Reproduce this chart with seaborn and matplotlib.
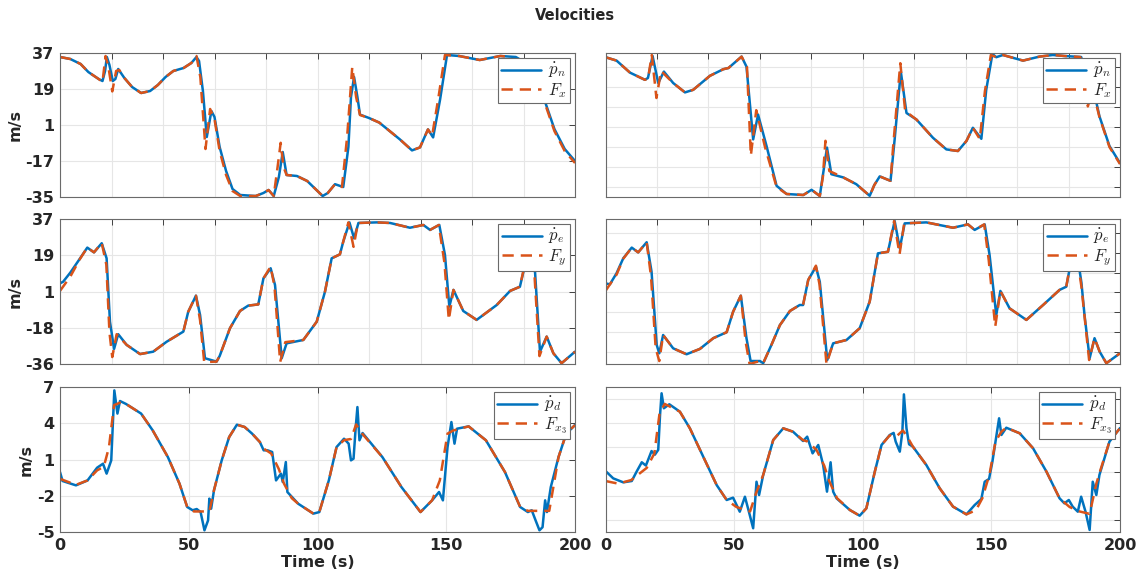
import numpy as np
import pandas as pd
import matplotlib
matplotlib.use("Agg")
import matplotlib.pyplot as plt
import seaborn as sns

# ---------------- data (time in s, velocity in m/s) ----------------
# Top-left: p_n dot / F_x
TL_T_B = [0, 4, 8, 11, 15, 16.5, 17.5, 18.2, 19.2, 20.5, 21.5, 22.6, 25, 28, 31.5, 35, 38, 41, 44, 48, 51, 53, 54, 55.5, 57, 58.8, 60, 62, 64.5, 67, 70, 76, 79, 81, 83, 85, 86.5, 88, 92, 96, 100, 102, 104, 106.8, 110, 112, 113, 114.2, 115.5, 116.5, 120, 124, 128, 132, 136.7, 139.8, 142.9, 144.9, 147.6, 150.3, 155, 163, 171, 177, 181, 184, 188, 192, 196, 200]
TL_B = [35, 34, 31.5, 27.5, 24, 23, 28, 35, 31, 23, 24, 29, 24.5, 20, 17, 18, 21, 25, 28, 29.5, 32, 35, 33, 18, -5, 8, 5, -10, -22, -31, -34, -34.5, -33, -31.5, -34.5, -25, -12.5, -24, -24.5, -27, -32, -34.5, -33, -28.6, -30, -10, 15, 25, 15, 6.2, 4.5, 2.2, -2, -6.2, -11.7, -10.2, -1.2, -5.2, 13.7, 36, 35.5, 33.5, 35.5, 35, 32, 26, 14, -1, -11, -17]
TL_T_R = [0, 4, 8, 11, 15, 16.5, 17.7, 18.8, 20.3, 21.8, 23, 25, 28, 31.5, 35, 38, 41, 44, 48, 51, 53, 54.5, 56.5, 58.3, 60, 62, 64.5, 67, 70, 76, 79, 81, 83, 84.5, 85.7, 86.8, 88, 92, 96, 100, 102, 104, 106.8, 109.5, 111.5, 113.5, 115, 116.5, 120, 124, 128, 132, 136.7, 139.8, 142.9, 144.5, 147, 149.5, 155, 163, 171, 175, 177.5, 179, 182, 184, 188, 192, 196, 200]
TL_R = [35, 34, 31.5, 27.5, 24, 22.5, 35.5, 30, 17.8, 28, 28.5, 24.5, 20, 17, 18, 21, 25, 28, 29.5, 32, 35.5, 25, -11, 9, 4, -12, -24, -32, -34.5, -34.5, -33, -31.5, -34.5, -20, -7.9, -20, -24, -24.5, -27, -32, -34.5, -33, -28.6, -30, -5, 30, 15, 6, 4.5, 2.2, -2, -6.2, -11.7, -10.2, -1.2, -4.5, 15, 36, 35.5, 33.5, 35.5, 35, 18, 30, 30, 25, 13, -2, -12, -18]

# Middle-left: p_e dot / F_y
ML_T_B = [0, 1.2, 4, 7.8, 10.6, 13.2, 16.2, 18.1, 19.4, 21, 22.6, 25.9, 31.1, 36.2, 41.4, 47.9, 49.8, 52.8, 54.4, 56.3, 60.8, 62, 66, 69.9, 73.1, 77, 79, 81.8, 83.5, 86.1, 88, 94.5, 99.7, 102.9, 105.5, 108.7, 110, 112.4, 114.2, 115.9, 123, 128.2, 135.9, 141.1, 143.7, 147.3, 149.5, 151.2, 152.8, 156.6, 161.8, 169.6, 174.8, 178.6, 181.2, 183, 184.5, 186.4, 189, 191.6, 194.8, 200]
ML_B = [4.6, 5.4, 10, 17.2, 22.6, 20.2, 24.8, 17.2, -14.7, -28.4, -21, -26.4, -31, -29.8, -24.8, -19.7, -9.7, -1.6, -11.3, -33.1, -34.8, -32, -18, -9.3, -6.6, -6, 7.1, 12.2, 3.8, -33.1, -25.6, -23.9, -14.7, 0.4, 17.2, 19.2, 25.6, 35.3, 27.3, 35, 35.3, 35, 32.6, 34, 31.5, 34, 18.9, -7.1, 1.3, -9.3, -13.8, -6.3, 0.8, 2.9, 17.2, 20, 10, -29.8, -22.2, -30.6, -35.6, -29.8]
ML_T_R = [0, 4, 7.8, 10.6, 13.2, 16.2, 18, 19.2, 20.3, 22, 25.9, 31.1, 36.2, 41.4, 47.9, 49.8, 52.8, 54.4, 56, 60.8, 62, 66, 69.9, 73.1, 77, 79, 81.8, 83.3, 85.5, 87.5, 94.5, 99.7, 102.9, 105.5, 108.7, 110, 112, 114, 115.7, 123, 128.2, 135.9, 141.1, 143.7, 147.1, 149.3, 151, 152.8, 156.6, 161.8, 169.6, 174.8, 178.6, 181, 183, 184.3, 186.2, 189, 191.6, 194.8, 200]
ML_R = [0.8, 8, 17, 22.6, 20.2, 25, 14, -20, -32.5, -21, -26.4, -31, -29.8, -24.8, -19.7, -9.7, -1.6, -14, -35, -34.8, -32, -18, -9.3, -6.6, -6, 7.1, 13, 3, -35, -25, -23.9, -14.7, 0.4, 17.2, 19.2, 25.6, 35.3, 23, 35, 35.3, 35, 32.6, 34, 31.5, 34, 15, -13.8, 1.3, -9.3, -13.8, -6.3, 0.8, 2.9, 17.2, 20, 8, -32, -22.2, -30.6, -35.6, -29.8]

# Bottom-left: p_d dot / F_x3
BL_T_B = [0, 1, 6.2, 10.7, 14.4, 16.7, 18.1, 19.9, 21.1, 22.3, 23.3, 25.6, 31.5, 36, 41.9, 46.4, 49.4, 51.5, 53.1, 54.6, 56.1, 57.5, 58, 58.7, 59.8, 62.8, 65.7, 68.7, 71.7, 74.6, 77.6, 79.1, 80.6, 82.4, 83.9, 85.8, 86.5, 87.7, 88.3, 92.5, 98.4, 100.7, 104.4, 107.4, 110.3, 112.1, 113, 114, 114.8, 115.5, 116.3, 117.5, 125.2, 132.6, 140, 144.5, 147.2, 148.7, 150.5, 152, 153.2, 154.2, 158.7, 165.4, 172.8, 178.7, 181.7, 183.2, 184.7, 186.2, 187.4, 188.4, 189.1, 190.6, 193.6, 196.6, 200]
BL_B = [-0.04, -0.78, -1.14, -0.73, 0.32, 0.65, -0.17, 0.93, 6.72, 4.8, 5.84, 5.6, 4.8, 3.41, 1.2, -1.0, -2.93, -3.2, -3.1, -3.35, -4.86, -4.04, -2.24, -3.07, -1.55, 0.93, 2.86, 3.88, 3.69, 3.14, 2.45, 1.76, 1.76, 1.62, -0.73, -0.17, -0.86, 0.79, -1.69, -2.66, -3.48, -3.35, -0.73, 2.03, 2.72, 2.31, 0.93, 1.07, 3.55, 5.34, 2.59, 3.19, 1.2, -1.28, -3.35, -2.38, -1.69, -2.38, 2.03, 4.1, 2.31, 3.55, 3.74, 2.59, -0.04, -2.93, -3.35, -3.2, -4.04, -4.86, -4.6, -2.38, -3.35, -1.28, 1.2, 3.14, 3.85]
BL_T_R = [0, 6.2, 10.7, 14.4, 17, 19, 21, 23.3, 25.6, 31.5, 36, 41.9, 46.4, 49.4, 52, 58, 59.8, 62.8, 65.7, 68.7, 71.7, 74.6, 77.6, 79.1, 82, 85, 87, 90, 92.5, 98.4, 100.7, 104.4, 107.4, 110.3, 113, 115, 117.5, 125.2, 132.6, 140, 144.5, 147.5, 150.5, 152.7, 158.7, 165.4, 172.8, 178.7, 181.7, 190, 193.6, 196.6, 200]
BL_R = [-0.6, -1.1, -0.73, 0.1, 0.4, 2.0, 5.5, 5.7, 5.6, 4.8, 3.41, 1.2, -1.0, -2.93, -3.3, -3.3, -1.55, 0.93, 2.86, 3.88, 3.69, 3.14, 2.45, 1.9, 1.5, 0.2, -1.0, -2.2, -2.66, -3.48, -3.35, -0.73, 2.03, 2.6, 2.7, 3.9, 3.1, 1.2, -1.28, -3.35, -2.38, -0.73, 3.14, 3.4, 3.74, 2.59, -0.04, -2.93, -3.25, -3.25, 1.2, 3.14, 3.85]

# Top-right
TR_T_B = [0, 4.3, 9.5, 15.3, 16.5, 18.3, 20.5, 22.7, 26.3, 30.9, 34.1, 40.6, 45.8, 47.8, 52.9, 54.8, 57.4, 59.3, 62.6, 66.5, 70.4, 76.9, 80.1, 83.3, 86.1, 87.8, 92.4, 97.5, 102.7, 104.5, 106.6, 109.8, 110.8, 112.4, 114.8, 117, 120.9, 127.3, 132.5, 137, 140.3, 142.8, 146.1, 148, 150.4, 151.9, 154.5, 162.3, 168.7, 173.9, 178.4, 184.9, 186.5, 188.5, 190, 192, 195.9, 200]
TR_B = [34.9, 33.2, 27.2, 23.6, 24.5, 35.5, 22, 27.7, 22, 17.3, 18.6, 25.6, 28.9, 29.5, 35.2, 30.2, -6.2, 6.2, -9.5, -29.4, -33.5, -34, -31.4, -34.5, -10.3, -23.6, -25.2, -28.6, -34.4, -29, -24.7, -26.4, -26.9, -6.2, 27.7, 7, 3.7, -5.4, -11.2, -12, -7, -0.4, -5.9, 18.6, 36.5, 34.9, 36, 33.2, 35.2, 36, 35.5, 35, 28, 22, 17, 5.4, -9.5, -18.1]
TR_T_R = [0, 4.3, 9.5, 15.3, 16.5, 18.0, 19.8, 21.6, 26.3, 30.9, 34.1, 40.6, 45.8, 47.8, 52.9, 55, 56.5, 58.6, 62, 66.5, 70.4, 76.9, 80.1, 83.3, 84.5, 85.5, 87, 92.4, 97.5, 102.7, 104.5, 106.6, 109.8, 110.8, 111.8, 114.6, 116.5, 120.9, 127.3, 132.5, 137, 140.3, 142.8, 145.5, 147.5, 149.8, 151.9, 154.5, 162.3, 168.7, 173.9, 178.4, 184.5, 186, 187.5, 189.4, 192, 195.9, 200]
TR_R = [34.9, 33.2, 27.2, 23.6, 24, 36, 14.5, 28, 22, 17.3, 18.6, 25.6, 28.9, 29.5, 35.2, 30, -14.3, 8.4, -10, -30, -33.5, -34, -31.4, -34.5, -25, -6.9, -22, -25.2, -28.6, -34.4, -29, -24.7, -26.4, -26.9, -10, 31.9, 8, 3.7, -5.4, -11.2, -12, -7, -0.4, -6, 18, 36, 34.9, 36, 33.2, 35.2, 36, 35.5, 35, 30, 10.3, 18.6, 5, -10, -18.5]

# Middle-right
MR_T_B = [0, 1.7, 4.3, 6.9, 10.2, 12.7, 16, 17.9, 19.9, 20.9, 22.4, 26.3, 31.5, 36.7, 41.9, 47.1, 49.6, 52.6, 54.8, 56.4, 60, 61.3, 64.5, 67.8, 71.7, 75.5, 76.8, 78.8, 81.8, 83.3, 86.2, 88.5, 93.7, 98.8, 102.7, 105.9, 109.8, 112.4, 114.4, 116.3, 124.7, 135.1, 140.9, 143.5, 147.4, 149.3, 151.9, 153.5, 157.1, 163.6, 170.1, 176.5, 179.1, 181.1, 183.5, 185, 186.2, 188.2, 190.1, 192.1, 194.7, 200]
MR_B = [4.6, 4.1, 9.7, 17.2, 22.6, 20.2, 25.3, 10.5, -26.4, -30.6, -21.4, -28.1, -31.1, -28.4, -23, -20, -9.7, -1.6, -23, -34.5, -34.5, -35.6, -26.4, -16.4, -9.3, -6.3, -6.3, 6.3, 13, 5.4, -34, -25.6, -23.9, -18, -4.6, 19.7, 20.5, 36, 22.2, 34.8, 35.3, 32.6, 34.3, 31.5, 34.3, 18.9, -11.3, 0.8, -8, -13.8, -6.3, 1.3, 2.9, 16.4, 18, 5, -11.3, -33.1, -23, -29.8, -35.6, -30.6]
MR_T_R = [0, 4.3, 6.9, 10.2, 12.7, 16, 17.7, 19.5, 20.9, 22.4, 26.3, 31.5, 36.7, 41.9, 47.1, 49.6, 52.6, 54.5, 56, 60, 61.3, 64.5, 67.8, 71.7, 75.5, 76.8, 78.8, 81.8, 83.2, 85.9, 88.5, 93.7, 98.8, 102.7, 105.9, 109.8, 112.2, 114.3, 116.1, 124.7, 135.1, 140.9, 143.5, 147.2, 149, 151.5, 153.5, 157.1, 163.6, 170.1, 176.5, 179.1, 181, 183.3, 185, 188, 190.1, 192.1, 194.7, 200]
MR_R = [0.8, 9, 17, 22.6, 20.2, 25.3, 8, -28, -34.5, -21.4, -28.1, -31.1, -28.4, -23, -20, -9.7, -1.6, -25, -36, -34.5, -35.6, -26.4, -16.4, -9.3, -6.3, -6.3, 6.3, 13.5, 4, -36, -25.6, -23.9, -18, -4.6, 19.7, 20.5, 36, 19.2, 34.8, 35.3, 32.6, 34.3, 31.5, 34.3, 16, -17.2, 0.8, -8, -13.8, -6.3, 1.3, 2.9, 16.4, 18, 3, -34, -23, -29.8, -35.6, -30.6]

# Bottom-right
BR_T_B = [0, 3, 6.9, 10.2, 12.1, 14.1, 15.7, 17.9, 19.2, 20.5, 21.2, 21.8, 22.7, 24.8, 28.9, 32.8, 38, 43.2, 47.1, 49.6, 52.2, 54.2, 55.9, 57.4, 58.7, 59.7, 61.3, 65.2, 69.1, 72.9, 76.8, 78.4, 80.5, 82.7, 84.6, 86.1, 87.5, 88.5, 89.8, 95, 98.8, 101.4, 104.7, 107.3, 110.5, 112, 112.8, 114.4, 115.4, 116, 117, 118, 119.5, 124.7, 129.9, 135.1, 140.3, 143.5, 146.1, 147.4, 149.1, 150.4, 153, 153.9, 155.8, 161, 166.2, 171.4, 176.5, 178.4, 180.1, 181.6, 183.6, 184.9, 186.6, 188.2, 189.4, 190.8, 192, 195.9, 200]
BR_B = [0.05, -0.56, -0.89, -0.78, 0.0, 0.77, 0.5, 1.7, 1.4, 1.8, 4.68, 6.48, 5.24, 5.57, 4.96, 3.58, 1.23, -1.11, -2.35, -2.16, -3.32, -2.08, -3.45, -4.69, -0.84, -1.94, -0.28, 2.61, 3.58, 3.3, 2.53, 2.89, 1.51, 2.2, 0.55, -1.66, 0.77, -1.66, -2.21, -3.18, -3.65, -3.04, 0.0, 2.2, 3.03, 3.2, 2.48, 1.65, 3.3, 6.39, 3.58, 2.26, 2.06, 0.55, -1.38, -2.9, -3.54, -2.77, -2.27, -0.84, -0.61, 0.82, 4.41, 3.03, 3.63, 3.17, 1.93, 0.0, -2.21, -2.63, -2.35, -2.9, -3.32, -2.08, -3.32, -4.83, -0.84, -1.94, -0.28, 2.48, 3.6]
BR_T_R = [0, 5, 10, 16, 19, 21, 23, 28.9, 32.8, 38, 43.2, 47.1, 50.9, 56.2, 58.5, 61.3, 65.2, 69.1, 72.9, 76.8, 78.4, 82, 85, 87, 90, 95, 98.8, 101.4, 104.7, 107.3, 110.5, 113, 115.6, 117, 119.5, 124.7, 129.9, 135.1, 140.3, 144, 146.5, 149.3, 151.6, 153.9, 155.8, 161, 166.2, 171.4, 176.5, 180.4, 184.3, 188.2, 190.8, 192.5, 195.9, 200]
BR_R = [-0.78, -1.0, -0.7, 0.3, 1.5, 4.8, 5.6, 4.96, 3.58, 1.23, -1.11, -2.35, -2.93, -3.3, -1.8, -0.28, 2.61, 3.58, 3.3, 2.6, 2.5, 1.8, 0.5, -0.8, -2.2, -3.18, -3.65, -3.04, 0.0, 2.2, 3.0, 2.9, 3.4, 3.0, 2.06, 0.55, -1.38, -2.9, -3.54, -3.2, -2.2, -0.2, 2.5, 3.3, 3.63, 3.17, 1.93, 0.0, -2.21, -2.93, -3.3, -3.5, -1.0, 0.2, 2.48, 3.6]

YLIMS = [(-35, 37), (-36, 37), (-5, 7)]
YTICK_LABELS = [["-35", "-17", "1", "19", "37"],
                ["-36", "-18", "1", "19", "37"],
                ["-5", "-2", "1", "4", "7"]]
XTICK_LABELS = ["0", "50", "100", "150", "200"]
LEG_LABELS = [(r"$\dot{p}_n$", r"$F_x$"), (r"$\dot{p}_e$", r"$F_y$"), (r"$\dot{p}_d$", r"$F_{x_3}$")]

BLUE = "#0072BD"
ORANGE = "#D95319"

# ---------------- figure ----------------
sns.set_theme(style="white")
plt.rcParams["font.family"] = ["DejaVu Sans"]
plt.rcParams["mathtext.fontset"] = "cm"

W, H = 1143, 573
fig = plt.figure(figsize=(W / 100, H / 100), dpi=100)

def px_axes(x0, y0, x1, y1):
    return fig.add_axes([x0 / W, 1 - y1 / H, (x1 - x0) / W, (y1 - y0) / H])

rows_y = [(53, 197), (219, 364), (387, 532)]
cols_x = [(60, 575), (605.5, 1120)]

panels = {
    (0, 0): (TL_T_B, TL_B, TL_T_R, TL_R),
    (1, 0): (ML_T_B, ML_B, ML_T_R, ML_R),
    (2, 0): (BL_T_B, BL_B, BL_T_R, BL_R),
    (0, 1): (TR_T_B, TR_B, TR_T_R, TR_R),
    (1, 1): (MR_T_B, MR_B, MR_T_R, MR_R),
    (2, 1): (BR_T_B, BR_B, BR_T_R, BR_R),
}

for (r, c), (tb, vb, tr, vr) in panels.items():
    x0, x1 = cols_x[c]
    y0, y1 = rows_y[r]
    ax = px_axes(x0, y0, x1, y1)
    lab_b, lab_r = LEG_LABELS[r]
    sns.lineplot(x=tb, y=vb, ax=ax, color=BLUE, linewidth=1.8, label=lab_b, sort=False)
    sns.lineplot(x=tr, y=vr, ax=ax, color=ORANGE, linewidth=1.8, linestyle=(0, (4.5, 2.8)),
                 label=lab_r, sort=False)
    lo, hi = YLIMS[r]
    ax.set_xlim(0, 200)
    ax.set_ylim(lo, hi)
    if r == 2:
        ax.set_xticks([0, 50, 100, 150, 200])
        ax.set_xticklabels(XTICK_LABELS, fontweight="bold", fontsize=11.5)
        ax.set_xlabel("Time (s)", fontweight="bold", fontsize=11.5, labelpad=2)
    else:
        ax.set_xticks(np.arange(0, 201, 20))
        ax.set_xticklabels([])
        ax.set_xlabel("")
    if c == 0:
        ax.set_yticks(np.linspace(lo, hi, 5))
        ax.set_yticklabels(YTICK_LABELS[r], fontweight="bold", fontsize=11.5)
        ax.set_ylabel("m/s", fontweight="bold", fontsize=11.5, labelpad=2)
    else:
        step = 10 if r < 2 else 2
        start = int(np.ceil(lo / step) * step)
        ax.set_yticks(np.arange(start, hi + 0.01, step))
        ax.set_yticklabels([])
        ax.set_ylabel("")
    ax.grid(True, color="#e6e6e6", linewidth=0.8)
    ax.set_axisbelow(True)
    ax.tick_params(direction="in", length=4, width=0.7, colors="#404040",
                   top=True, right=True, labelcolor="#262626", pad=4)
    for s in ax.spines.values():
        s.set_color("#6a6a6a")
        s.set_linewidth(0.8)
    leg = ax.legend(loc="upper right", fontsize=12, frameon=True, fancybox=False,
                    framealpha=1, edgecolor="#6a6a6a", handlelength=2.4,
                    borderaxespad=0.3, borderpad=0.2, labelspacing=0.05,
                    handletextpad=0.4)
    leg.get_frame().set_linewidth(0.8)

fig.text(575 / W, 1 - 16 / H, "Velocities", ha="center", va="center",
         fontweight="bold", fontsize=10.5)

fig.savefig("out.png", dpi=100)
